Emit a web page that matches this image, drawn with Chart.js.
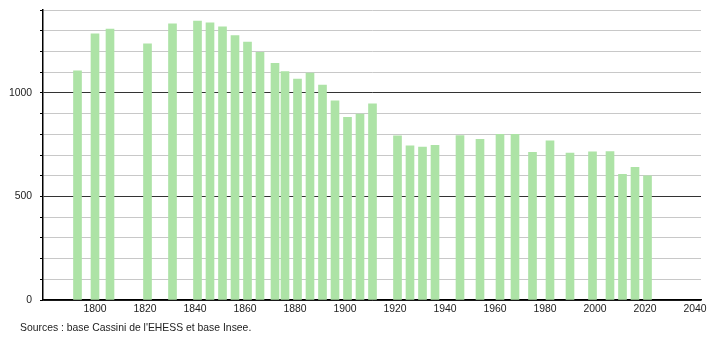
<!DOCTYPE html>
<html>
<head>
<meta charset="utf-8">
<script src="https://cdn.jsdelivr.net/npm/chart.js@4"></script>
<style>
  body { margin: 0; background: #fff; }
  #wrap { position: relative; width: 710px; height: 340px; }
  #sources { position: absolute; left: 20px; top: 322px; font: 10.4px "Liberation Sans", Arial, sans-serif; color: #222; }
</style>
</head>
<body>
<div id="wrap">
  <canvas id="popChart" width="710" height="340"></canvas>
  <div id="sources">Sources : base Cassini de l'EHESS et base Insee.</div>
</div>
<script>
// census years and population
const years = [1793, 1800, 1806, 1821, 1831, 1841, 1846, 1851, 1856, 1861, 1866, 1872, 1876, 1881, 1886, 1891, 1896, 1901, 1906, 1911,
               1921, 1926, 1931, 1936, 1946, 1954, 1962, 1968, 1975, 1982, 1990, 1999, 2006, 2011, 2016, 2021];
const population = [1106, 1285, 1308, 1237, 1333, 1346, 1338, 1319, 1276, 1245, 1196, 1143, 1103, 1066, 1095, 1037, 961, 882, 897, 947,
                    792, 744, 738, 747, 794, 776, 800, 800, 713, 768, 709, 715, 716, 607, 641, 599];
const xTicks = [1800, 1820, 1840, 1860, 1880, 1900, 1920, 1940, 1960, 1980, 2000, 2020, 2040];

const points = years.map(function(y, i) { return { x: y, y: population[i] }; });

const font = { family: '"Liberation Sans", Arial, sans-serif', size: 10.4 };

const chartConfig = {
    type: 'bar',
    data: {
        datasets: [{
            data: points,
            backgroundColor: '#ade3a6',
            barThickness: 8,
            borderWidth: 0
        }]
    },
    options: {
        responsive: false,
        animation: false,
        layout: { padding: { top: 10, right: 9, left: 0, bottom: 0 } },
        plugins: { legend: { display: false }, tooltip: { enabled: false } },
        scales: {
            x: {
                type: 'linear',
                offset: false,
                min: 1779.2,
                max: 2042.4,
                afterBuildTicks: function(scale) {
                    scale.ticks = xTicks.map(function(v) { return { value: v }; });
                },
                afterFit: function(scale) { scale.height = 40; },
                grid: { display: false, drawTicks: false, tickLength: 0 },
                border: { color: '#000', width: 1.5 },
                ticks: { font: font, color: '#222', padding: 3, maxRotation: 0, autoSkip: false,
                         callback: function(v) { return String(v); } }
            },
            y: {
                min: 0,
                max: 1400,
                afterFit: function(scale) {
                    scale.width = 43;
                    scale.paddingTop = 0;
                    scale.paddingBottom = 0;
                },
                border: { color: '#000', width: 1.5 },
                grid: {
                    color: function(ctx) { return ctx.tick.value % 500 === 0 ? '#333' : '#c8c8c8'; },
                    tickColor: '#000',
                    tickLength: 3
                },
                ticks: {
                    stepSize: 100,
                    font: font,
                    color: '#222',
                    padding: 8,
                    callback: function(v) { return v % 500 === 0 ? v : ''; }
                }
            }
        }
    }
};

const popChart = new Chart(document.getElementById('popChart'), chartConfig);
</script>
</body>
</html>
